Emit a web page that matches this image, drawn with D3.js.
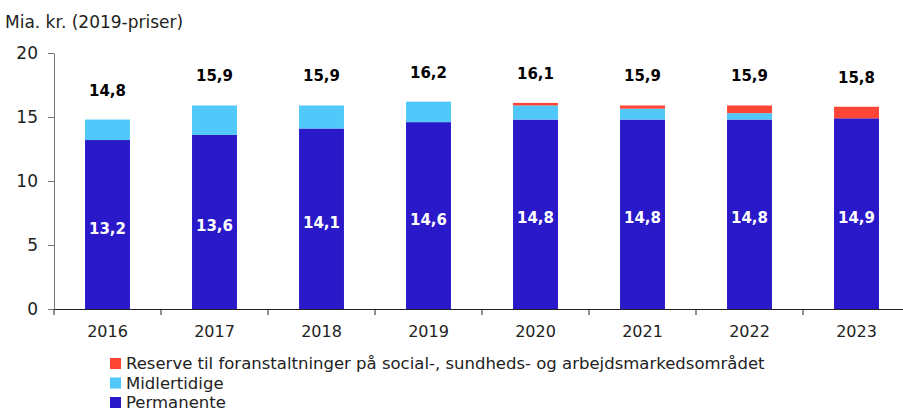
<!DOCTYPE html>
<html>
<head>
<meta charset="utf-8">
<script src="https://d3js.org/d3.v7.min.js"></script>
<style>
  body { margin: 0; background: #fff; }
  text { font-family: "DejaVu Sans", sans-serif; }
</style>
</head>
<body>
<svg id="chart" width="903" height="414"></svg>
<script>
    var years = ["2016", "2017", "2018", "2019", "2020", "2021", "2022", "2023"];
    var permanente = [13.2, 13.6, 14.1, 14.6, 14.8, 14.8, 14.8, 14.9];
    var midlertidige = [1.6, 2.3, 1.8, 1.6, 1.1, 0.85, 0.5, 0];
    var reserve = [0, 0, 0, 0, 0.2, 0.25, 0.6, 0.9];
    var totals = [14.8, 15.9, 15.9, 16.2, 16.1, 15.9, 15.9, 15.8];
    var yTicks = [0, 5, 10, 15, 20];
    var seriesNames = ["Permanente", "Midlertidige", "Reserve til foranstaltninger på social-, sundheds- og arbejdsmarkedsområdet"];
    var colors = ["#2a19c9", "#50c8fa", "#ff4636"];

    var fmt1 = v => v.toFixed(1).replace(".", ",");

    var svg = d3.select("#chart");
    var margin = {left: 54, top: 53, bottom: 309};

    var data = years.map((y, i) => ({year: y, p: permanente[i], m: midlertidige[i], r: reserve[i]}));

    var x = d3.scaleBand()
        .domain(years)
        .range([margin.left, 910])
        .paddingInner(0.58)
        .paddingOuter(0.29);

    var y = d3.scaleLinear()
        .domain([0, 20])
        .range([margin.bottom, margin.top]);

    var stack = d3.stack().keys(["p", "m", "r"]);
    var layers = stack(data);

    svg.append("g")
        .selectAll("g")
        .data(layers)
        .join("g")
        .attr("fill", (d, i) => colors[i])
        .selectAll("rect")
        .data(d => d)
        .join("rect")
        .attr("x", d => x(d.data.year))
        .attr("width", x.bandwidth())
        .attr("y", d => y(d[1]))
        .attr("height", d => y(d[0]) - y(d[1]));

    // y axis
    var yAxis = svg.append("g")
        .attr("transform", `translate(${margin.left},0)`)
        .call(d3.axisLeft(y).tickValues(yTicks).tickSize(6).tickSizeOuter(0).tickPadding(10));
    yAxis.select(".domain").attr("stroke", "#777");
    yAxis.selectAll(".tick line").attr("stroke", "#777");
    yAxis.selectAll("text").attr("font-size", 17).attr("fill", "#222");

    // x axis
    var xAxis = svg.append("g")
        .attr("transform", `translate(0,${margin.bottom})`)
        .call(d3.axisBottom(x).tickSize(0).tickPadding(17));
    xAxis.select(".domain").attr("stroke", "#222");
    xAxis.selectAll("text").attr("font-size", 16).attr("fill", "#222");
    var step = x.step();
    xAxis.selectAll(".sep")
        .data(years)
        .join("line")
        .attr("class", "sep")
        .attr("x1", (d, i) => margin.left + i * step)
        .attr("x2", (d, i) => margin.left + i * step)
        .attr("y1", 0)
        .attr("y2", 6)
        .attr("stroke", "#222");

    // total labels
    svg.append("g")
        .selectAll("text")
        .data(data)
        .join("text")
        .attr("x", d => x(d.year) + x.bandwidth() / 2)
        .attr("y", (d, i) => y(totals[i]) - 24)
        .attr("text-anchor", "middle")
        .attr("font-size", 15)
        .attr("font-weight", "bold")
        .attr("fill", "#000")
        .text((d, i) => fmt1(totals[i]));

    // permanent labels
    svg.append("g")
        .selectAll("text")
        .data(data)
        .join("text")
        .attr("x", d => x(d.year) + x.bandwidth() / 2)
        .attr("y", d => (y(0) + y(d.p)) / 2 + 9)
        .attr("text-anchor", "middle")
        .attr("font-size", 15)
        .attr("font-weight", "bold")
        .attr("fill", "#fff")
        .text(d => fmt1(d.p));

    // title
    svg.append("text")
        .attr("x", 5)
        .attr("y", 28)
        .attr("font-size", 17)
        .attr("fill", "#222")
        .text("Mia. kr. (2019-priser)");

    // legend
    var legendOrder = [2, 1, 0];
    var legend = svg.append("g")
        .selectAll("g")
        .data(legendOrder)
        .join("g")
        .attr("transform", (d, i) => `translate(110,${358 + i * 19.5})`);
    legend.append("rect")
        .attr("width", 11)
        .attr("height", 11)
        .attr("fill", d => colors[d]);
    legend.append("text")
        .attr("x", 16)
        .attr("y", 11)
        .attr("font-size", 16.5)
        .attr("fill", "#222")
        .text(d => seriesNames[d]);
</script>
</body>
</html>
